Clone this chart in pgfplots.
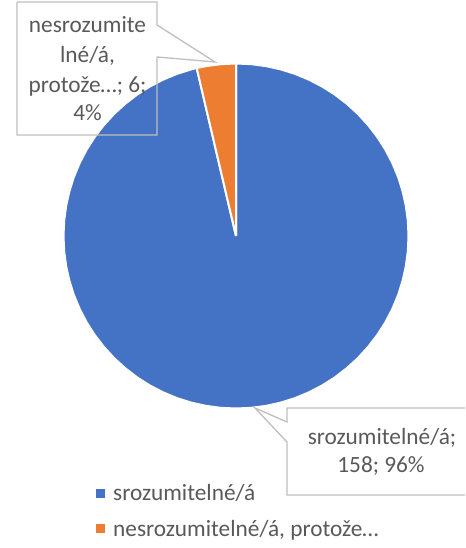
\documentclass[border=0pt]{standalone}
\usepackage{fontspec}
\setmainfont{Carlito}
\usepackage{pgfplots}
\pgfplotsset{compat=1.18}
\definecolor{pieblue}{HTML}{4472C4}
\definecolor{pieorange}{HTML}{ED7D31}
\definecolor{txtgray}{HTML}{595959}
\definecolor{boxgray}{HTML}{BFBFBF}
\newcommand{\lblfont}{\fontsize{23.3bp}{28bp}\selectfont}
\begin{document}
\begin{tikzpicture}
\begin{axis}[
  scale only axis, width=466bp, height=548bp,
  xmin=-236, xmax=230, ymin=-312, ymax=236,
  hide axis, clip=false,
  legend image code/.code={\fill[#1,draw=none] (0bp,-4.5bp) rectangle (9bp,4.5bp); \path (15bp,0bp);},
  legend style={at={(axis cs:-140,-247)}, anchor=north west, draw=none, fill=none,
    font=\lblfont, text=txtgray, row sep=16bp, cells={anchor=west},
    inner sep=0pt, nodes={inner sep=1bp}},
]
% srozumitelne/a: 158
\addplot[data cs=polar, fill=pieblue, draw=white, line width=2bp, line join=round] coordinates {
(103.17,0) (103.17,172.5) (105,172.5) (110,172.5) (115,172.5) (120,172.5) (125,172.5) (130,172.5)
(135,172.5) (140,172.5) (145,172.5) (150,172.5) (155,172.5) (160,172.5) (165,172.5) (170,172.5)
(175,172.5) (180,172.5) (185,172.5) (190,172.5) (195,172.5) (200,172.5) (205,172.5) (210,172.5)
(215,172.5) (220,172.5) (225,172.5) (230,172.5) (235,172.5) (240,172.5) (245,172.5) (250,172.5)
(255,172.5) (260,172.5) (265,172.5) (270,172.5) (275,172.5) (280,172.5) (285,172.5) (290,172.5)
(295,172.5) (300,172.5) (305,172.5) (310,172.5) (315,172.5) (320,172.5) (325,172.5) (330,172.5)
(335,172.5) (340,172.5) (345,172.5) (350,172.5) (355,172.5) (360,172.5) (365,172.5) (370,172.5)
(375,172.5) (380,172.5) (385,172.5) (390,172.5) (395,172.5) (400,172.5) (405,172.5) (410,172.5)
(415,172.5) (420,172.5) (425,172.5) (430,172.5) (435,172.5) (440,172.5) (445,172.5) (450,172.5)
(450,0)
};
\addlegendentry{srozumitelné/á}
% nesrozumitelne/a: 6
\addplot[data cs=polar, fill=pieorange, draw=white, line width=2bp, line join=round] coordinates {
(90,0) (90,172.5) (95,172.5) (100,172.5) (103.17,172.5) (103.17,0)
};
\addlegendentry{nesrozumitelné/á, protože…}
% callout boxes
\addplot[draw=boxgray, line width=1.3bp, forget plot] coordinates {
(-219,234) (-79,234) (-79,211) (-21,174) (-79,179) (-79,101) (-219,101) (-219,234)
};
\addplot[draw=boxgray, line width=1.3bp, forget plot] coordinates {
(229,-172) (51,-172) (51,-186) (19,-172) (51,-206) (51,-259) (229,-259)
};
\node[anchor=base, text=txtgray, font=\lblfont, inner sep=0pt] at (axis cs:-148.5,203) {nesrozumite};
\node[anchor=base, text=txtgray, font=\lblfont, inner sep=0pt] at (axis cs:-148.5,173) {lné/á,};
\node[anchor=base, text=txtgray, font=\lblfont, inner sep=0pt] at (axis cs:-148.5,143) {protože…; 6;};
\node[anchor=base, text=txtgray, font=\lblfont, inner sep=0pt] at (axis cs:-148.5,115) {4\%};
\node[anchor=base, text=txtgray, font=\lblfont, inner sep=0pt] at (axis cs:146,-209) {srozumitelné/á;};
\node[anchor=base, text=txtgray, font=\lblfont, inner sep=0pt] at (axis cs:145,-237) {158; 96\%};
\end{axis}
\pgfresetboundingbox
\path[use as bounding box] (current axis.south west) rectangle (current axis.north east);
\end{tikzpicture}
\end{document}
